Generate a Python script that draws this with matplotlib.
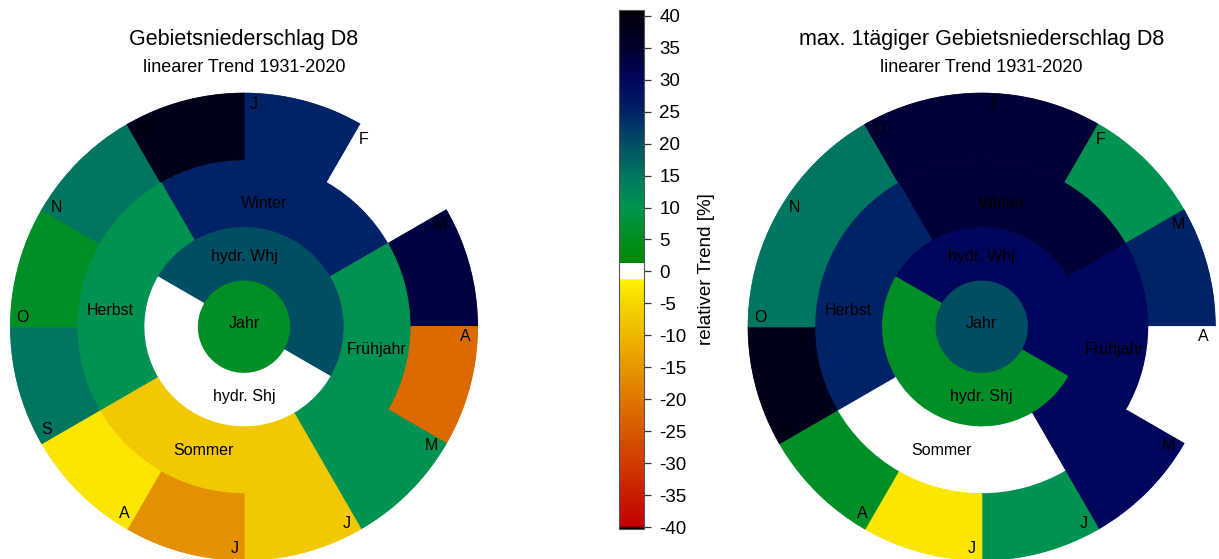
import numpy as np
import matplotlib
matplotlib.use('Agg')
import matplotlib.pyplot as plt
import matplotlib.colors as colors
from matplotlib.colors import LinearSegmentedColormap

plt.rcParams['font.family'] = ['Liberation Sans', 'DejaVu Sans']
plt.rcParams['axes.unicode_minus'] = False

# relative linear trend 1931-2020 in %
month_names = ['J', 'F', 'M', 'A', 'M', 'J', 'J', 'A', 'S', 'O', 'N', 'D']
season_names = ['Winter', 'Frühjahr', 'Sommer', 'Herbst']
halfyear_names = ['hydr. Whj', 'hydr. Shj']
year_name = 'Jahr'

rr_months = [25, 0.4, 33, -22, 10.5, -7, -16, -3, 15, 6, 15, 38]
rr_seasons = [25, 10.5, -7, 10.5]
rr_halfyears = [20, 0.3]
rr_year = 6

rx1_months = [34, 10.5, 25, 0.5, 30, 10.5, -3, 6, 38, 15, 15, 34]
rx1_seasons = [34, 30, 0.4, 25]
rx1_halfyears = [30, 6]
rx1_year = 20

titles = ['Gebietsniederschlag D8', 'max. 1tägiger Gebietsniederschlag D8']
subtitle = 'linearer Trend 1931-2020'
cbar_ticks = np.arange(-40, 41, 5)

# colour scale: red-orange-yellow for negative, white around zero, green-blue-black for positive
vmin, vmax = -40.3, 40.9
eps = 0.01
nodes = [(-40.3, '#000000'), (-39.9, '#c20000'), (-30, '#d03a00'), (-20, '#df7600'),
         (-10, '#eeb700'), (-5, '#f5d600'), (-1.25, '#fff400'),
         (-1.25 + eps, '#ffffff'), (1.25 - eps, '#ffffff'),
         (1.25, '#008a08'), (5, '#008d1c'), (10, '#00954f'), (15, '#007660'),
         (20, '#004e64'), (25, '#002266'), (30, '#00065c'), (35, '#00002e'),
         (40, '#00000e'), (40.9, '#000000')]
cmap = LinearSegmentedColormap.from_list(
    'trend', [((v - vmin) / (vmax - vmin), c) for v, c in nodes], N=1024)
norm = colors.Normalize(vmin=vmin, vmax=vmax)

R_YEAR, R_HALF, R_SEASON, R_MONTH = 0.7, 1.5, 2.5, 3.5


def ring(ax, values, start_deg, r0, r1):
    n = len(values)
    width = 2 * np.pi / n
    theta = np.deg2rad(start_deg) + np.arange(n) * width
    cols = [cmap(norm(v)) for v in values]
    ax.bar(theta, r1 - r0, width=width, bottom=r0, align='edge',
           color=cols, edgecolor=cols, linewidth=0.9)


def plot_sunburst(ax, months, seasons, halfyears, year):
    ax.set_theta_zero_location('N')
    ax.set_theta_direction(-1)
    ring(ax, [year], 0, 0, R_YEAR)
    ring(ax, halfyears, -60, R_YEAR, R_HALF)
    ring(ax, seasons, -30, R_HALF, R_SEASON)
    ring(ax, months, 0, R_SEASON, R_MONTH)
    ax.set_ylim(0, R_MONTH)
    ax.set_axis_off()

    fs = 11.5
    ax.text(0, 0.05, year_name, ha='center', va='center', fontsize=fs)
    ax.text(0, 1.05, halfyear_names[0], ha='center', va='center', fontsize=fs)
    ax.text(np.pi, 1.05, halfyear_names[1], ha='center', va='center', fontsize=fs)
    for name, ang, r in zip(season_names, [9.2, 99.9, 198.0, 277.1], [1.87, 2.02, 1.94, 2.01]):
        ax.text(np.deg2rad(ang), r, name, ha='center', va='center', fontsize=fs)
    for i, name in enumerate(month_names):
        ax.text(np.deg2rad(i * 30 + 2.5), 3.32, name, ha='center', va='center', fontsize=fs)


fig = plt.figure(figsize=(12.19, 5.59), dpi=100)
W, H = 1219, 559

for cx, data, title in [(244, (rr_months, rr_seasons, rr_halfyears, rr_year), titles[0]),
                        (981.7, (rx1_months, rx1_seasons, rx1_halfyears, rx1_year), titles[1])]:
    cy = 326.7
    rad = 234
    ax = fig.add_axes([(cx - rad) / W, (H - cy - rad) / H, 2 * rad / W, 2 * rad / H],
                      projection='polar')
    plot_sunburst(ax, *data)
    fig.text(cx / W, 1 - 39.5 / H, title, ha='center', va='center', fontsize=15.5)
    fig.text(cx / W, 1 - 67.5 / H, subtitle, ha='center', va='center', fontsize=13)

cax = fig.add_axes([619 / W, (H - 529) / H, 25 / W, 519 / H])
sm = matplotlib.cm.ScalarMappable(norm=norm, cmap=cmap)
cb = fig.colorbar(sm, cax=cax, ticks=cbar_ticks)
cb.outline.set_edgecolor('#555555')
cb.outline.set_linewidth(0.8)
cax.tick_params(length=5, width=0.9, color='#333333', labelsize=13.5, pad=6)
cb.set_label('relativer Trend [%]', fontsize=13.5, labelpad=8)

fig.savefig('out.png', dpi=100)
